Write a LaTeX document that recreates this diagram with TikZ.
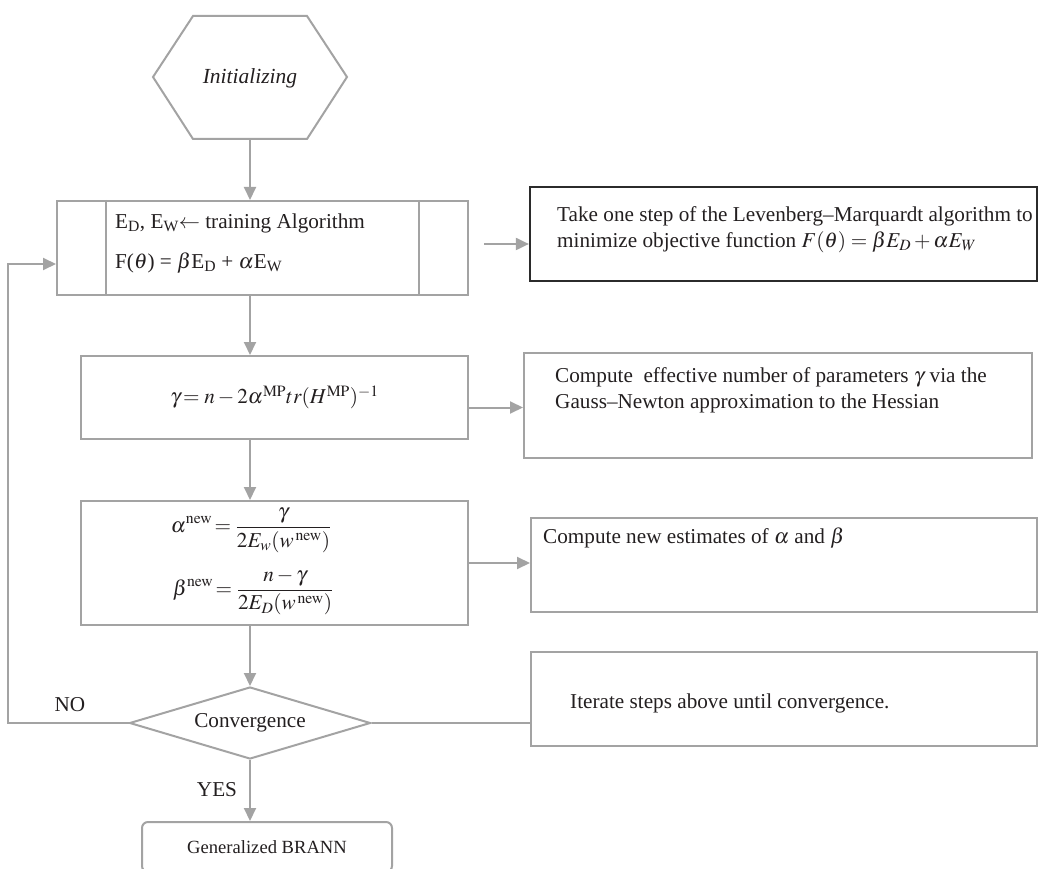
\documentclass[tikz,border=0pt]{standalone}
\usepackage{mathptmx}
\usepackage[no-math]{fontspec}
\setmainfont{Liberation Serif}
\usetikzlibrary{arrows.meta,shapes.geometric}
\definecolor{lg}{HTML}{A3A3A3}
\definecolor{txt}{HTML}{231F20}
\definecolor{dk}{HTML}{2B2B2B}
\begin{document}
\begin{tikzpicture}[x=1pt,y=-1pt,
  every node/.style={text=txt, inner sep=0pt, font=\fontsize{21.2}{26}\selectfont},
  box/.style={draw=lg, line width=2pt},
  arr/.style={draw=lg, line width=2pt, -{Triangle[length=13pt,width=12pt]}},
  ln/.style={draw=lg, line width=2pt}]
\useasboundingbox (0,0) rectangle (1039,869);
\clip (0,0) rectangle (1039,869);
% hexagon
\draw[ln] (153,77) -- (193,16) -- (307,16) -- (347,77) -- (307,139) -- (193,139) -- cycle;
\node[font=\fontsize{21.5}{26}\selectfont\itshape] (init) at (250,78) {Initializing};
\coordinate (initb) at (250,139);
% main column
\node[box, minimum width=411pt, minimum height=94pt] (box1) at (262.5,248) {};
\draw[ln] ([xshift=50pt]box1.north west) -- ([xshift=50pt]box1.south west);
\draw[ln] ([xshift=-50pt]box1.north east) -- ([xshift=-50pt]box1.south east);
\node[anchor=west] (t1a) at (115,223) {E\textsubscript{D}, E\textsubscript{W}$\leftarrow$ training Algorithm};
\node[anchor=west] (t1b) at (115,263) {F($\theta$) = $\beta$E\textsubscript{D} + $\alpha$E\textsubscript{W}};
\node[box, minimum width=387pt, minimum height=83pt] (box2) at (274.5,397.5)
  {$\gamma\!=n - 2\alpha^{\mathrm{MP}}tr(H^{\mathrm{MP}})^{-1}$};
\node[box, minimum width=387pt, minimum height=124pt] (box3) at (274.5,563) {};
\node (f1) at (251,530) {$\displaystyle\alpha^{\mathrm{new}}\!=\frac{\gamma}{2E_w(w^{\,\mathrm{new}})}$};
\node (f2) at (253,592) {$\displaystyle\beta^{\mathrm{new}}\!=\frac{n-\gamma}{2E_D(w^{\,\mathrm{new}})}$};
\node[draw=lg, line width=2pt, shape=diamond, minimum width=241pt, minimum height=72pt] (conv) at (250,723) {};
\node (convt) at (250,723) {Convergence};
\node[box, rounded corners=6pt, minimum width=250pt, minimum height=50pt,
      font=\fontsize{18.6}{22}\selectfont] (out) at (267,847) {Generalized BRANN};
% right column
\node[draw=dk, line width=2.2pt, minimum width=507pt, minimum height=94pt] (rb1) at (783.5,234) {};
\node[anchor=west, align=left] (rt1) at (557,230)
  {Take one step of the Levenberg--Marquardt algorithm to\\minimize objective function $F(\theta) = \beta E_D + \alpha E_W$};
\node[box, minimum width=508pt, minimum height=105pt] (rb2) at (778,405.5) {};
\node[anchor=west, align=left] (rt2) at (555,390)
  {Compute\ \ effective number of parameters $\gamma$ via the\\Gauss--Newton approximation to the Hessian};
\node[box, minimum width=506pt, minimum height=94pt] (rb3) at (784,565) {};
\node[anchor=west] (rt3) at (543,538) {Compute new estimates of $\alpha$ and $\beta$};
\node[box, minimum width=506pt, minimum height=94pt] (rb4) at (784,699) {};
\node[anchor=west] (rt4) at (570,703) {Iterate steps above until convergence.};
% labels
\node (no) at (70,705) {NO};
\node (yes) at (217,790) {YES};
% connectors
\draw[arr] (initb) -- (init |- box1.north);
\draw[arr] (init |- box1.south) -- (init |- box2.north);
\draw[arr] (init |- box2.south) -- (init |- box3.north);
\draw[arr] (init |- box3.south) -- (conv.north);
\draw[arr] (conv.south) -- (conv.south |- out.north);
\draw[arr] (conv.west) -| (8,264) -- (box1.west |- 0,264);
\draw[arr, shorten <=15pt] ([yshift=4pt]box1.east) coordinate (a1) -- (a1 -| rb1.west);
\draw[arr] ([yshift=-10pt]box2.east) coordinate (a2) -- (a2 -| rb2.west);
\draw[arr] (box3.east) -- (box3.east -| rb3.west);
\draw[ln] (conv.east) -- (conv.east -| rb4.west);
\end{tikzpicture}
\end{document}
